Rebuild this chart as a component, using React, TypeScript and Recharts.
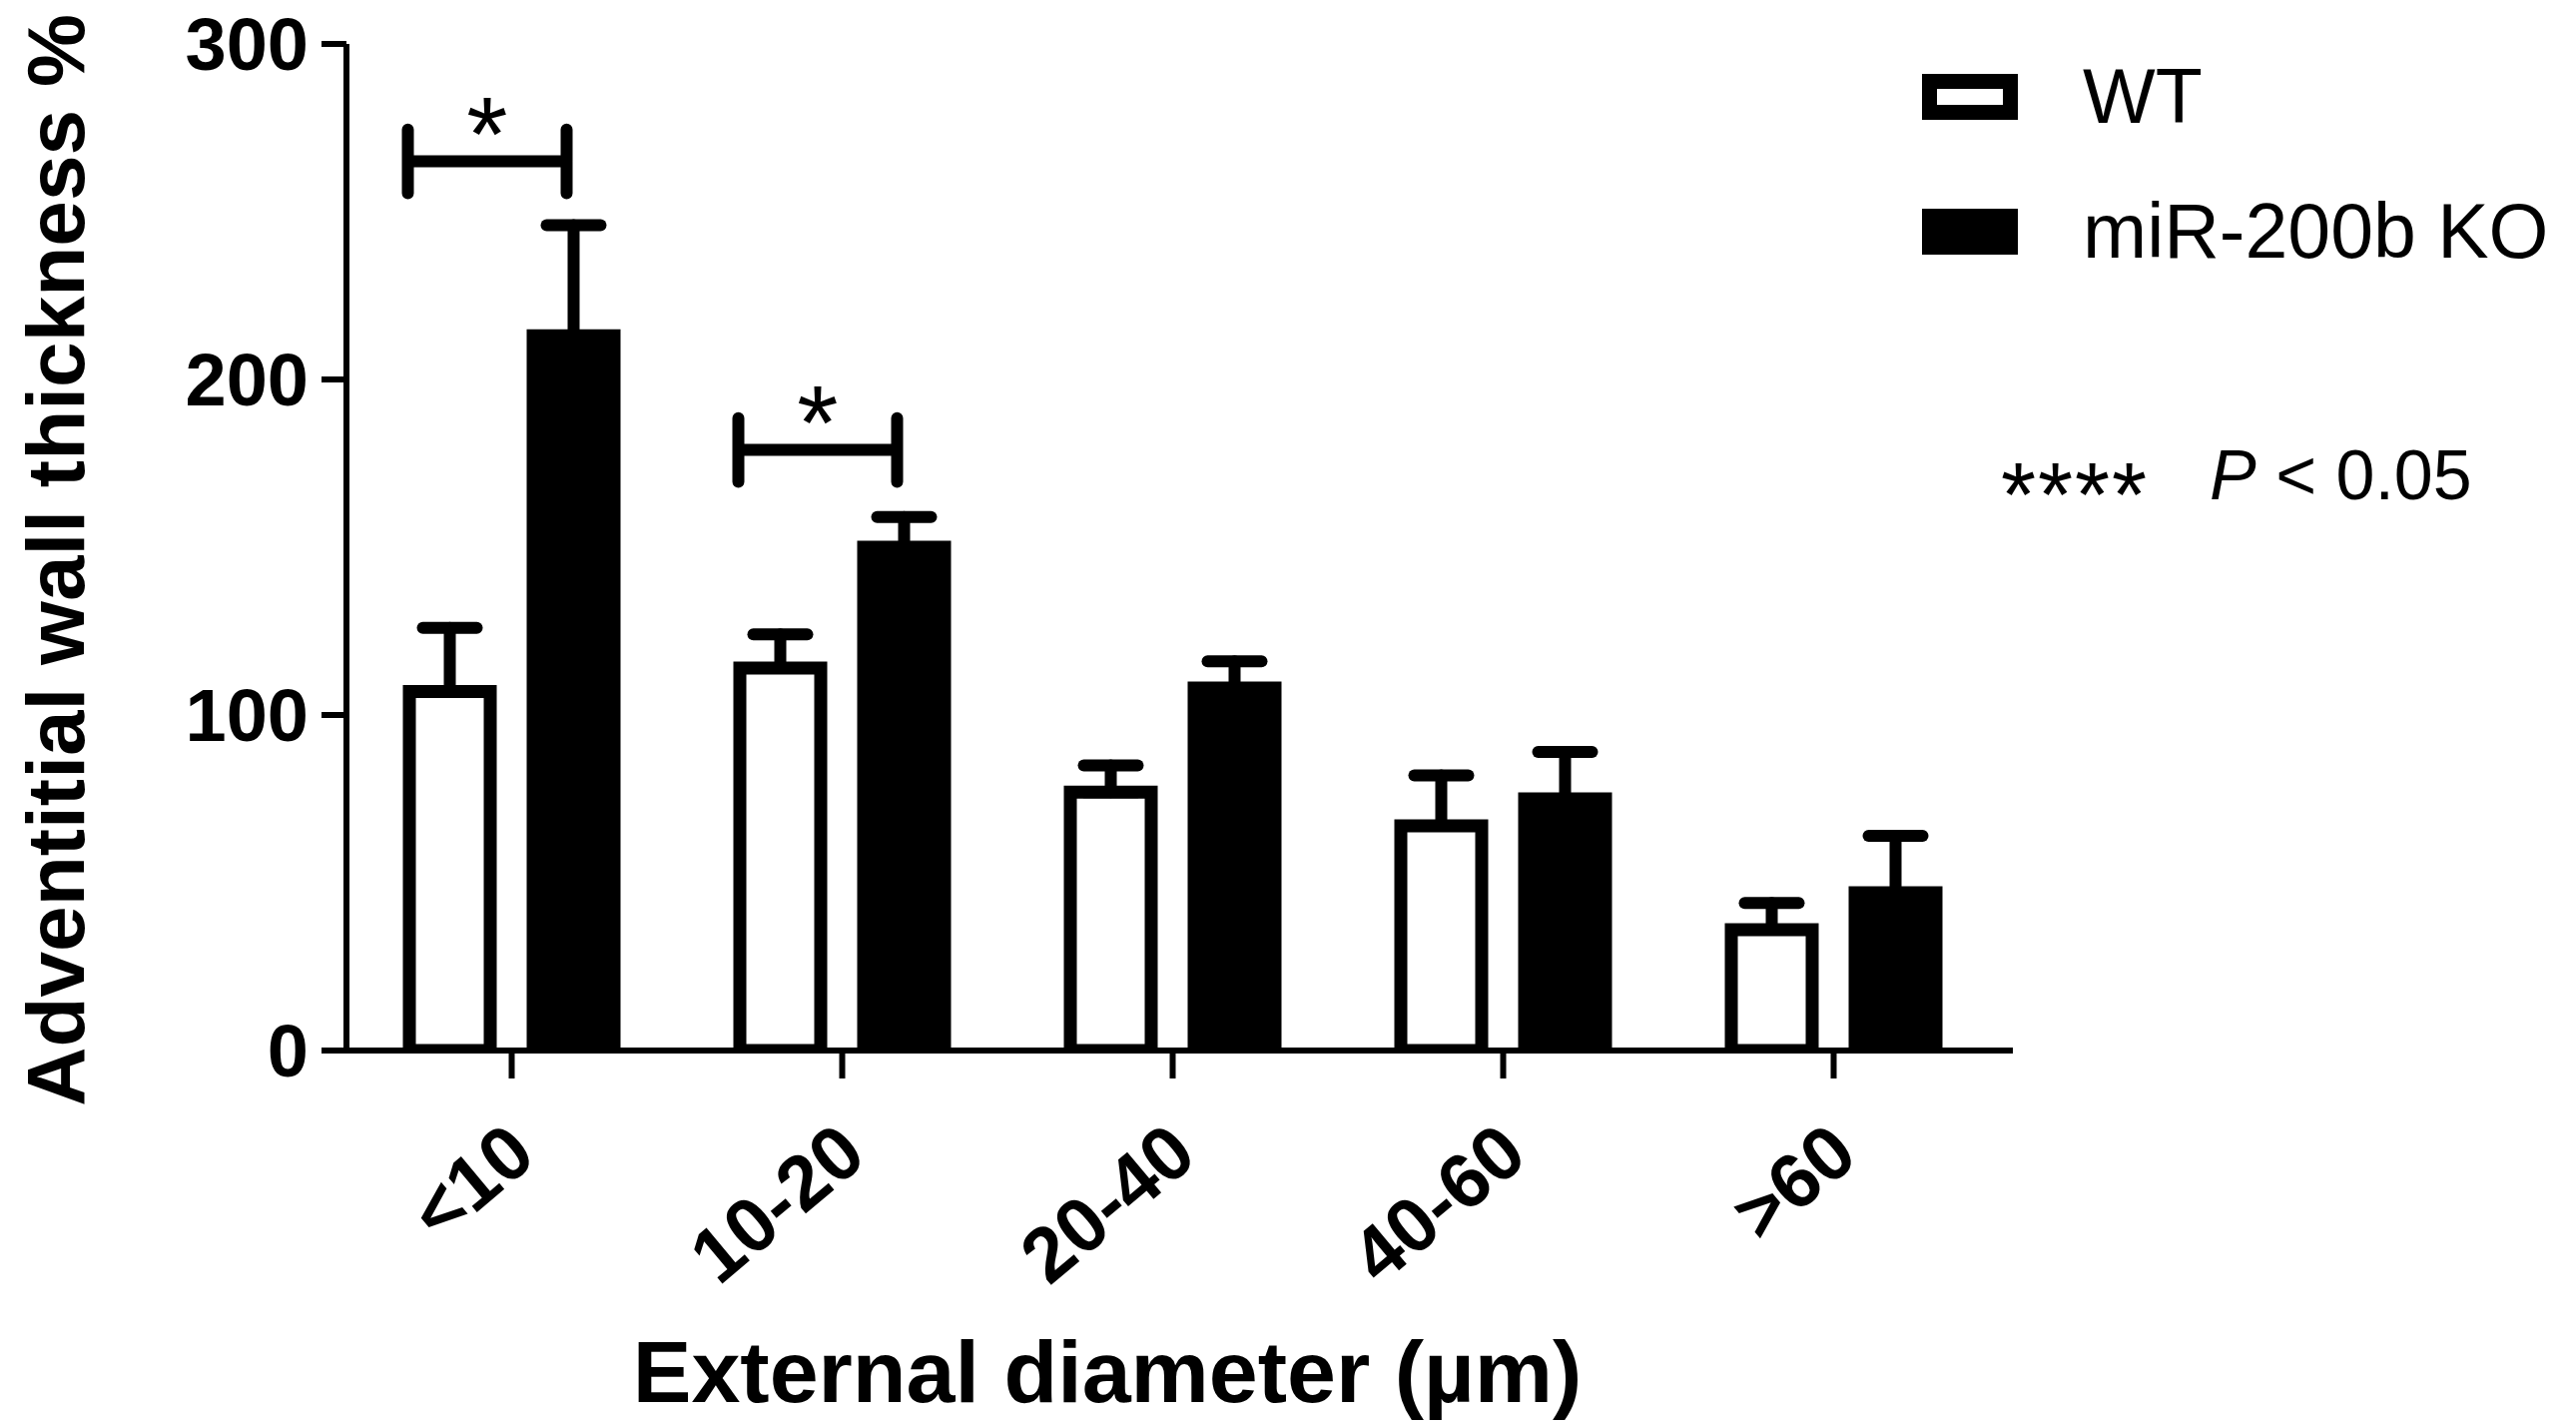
import { BarChart, Bar, XAxis, YAxis, ErrorBar, LabelList, Legend, Label } from 'recharts';

// diameter bins and group means / SEM
const categories = ['<10', '10-20', '20-40', '40-60', '>60'];
const wtMean = [107, 114, 77, 67, 36];
const wtSem = [19, 10, 8, 15, 8];
const koMean = [213, 150, 108, 75, 47];
const koSem = [33, 9, 8, 14, 17];
const sigMarks = ['*', '*', '', '', ''];
const sigLevel = [265, 179, 0, 0, 0];
const yTicks = [0, 100, 200, 300];

const data = categories.map((name, i) => ({
  name,
  wt: wtMean[i],
  wtErr: [0, wtSem[i]],
  ko: koMean[i],
  koErr: [0, koSem[i]],
  sig: sigMarks[i],
}));

const FONT = '"Liberation Sans", Arial, Helvetica, sans-serif';
const BAR = 81;
const GAP = 43;
const EDGE = 13;

function DiameterTick({ x, y, payload }: any) {
  const tx = x + 27;
  const ty = y + 80;
  return (
    <text
      x={tx}
      y={ty}
      transform={`rotate(-40, ${tx}, ${ty})`}
      textAnchor="end"
      fontSize={77}
      fontWeight="bold"
      fontFamily={FONT}
      fill="#000"
    >
      {payload.value}
    </text>
  );
}

function SigBracket(props: any) {
  const i = props.index;
  if (!sigMarks[i]) return null;
  const vb = props.viewBox && props.viewBox.height != null ? props.viewBox : props;
  const { x, y, width, height } = vb;
  const k = height / wtMean[i];
  const base = y + height;
  const yb = base - sigLevel[i] * k;
  const half = 9.5 * k;
  const x1 = x - EDGE / 2 + 5;
  const x2 = x + width + GAP + width / 2 - 7;
  const starMid = base - (sigLevel[i] + 15) * k;
  return (
    <g>
      <path
        d={`M${x1},${yb - half}V${yb + half}M${x1},${yb}H${x2}M${x2},${yb - half}V${yb + half}`}
        stroke="#000"
        strokeWidth={12}
        strokeLinecap="round"
        fill="none"
      />
      <text
        x={(x1 + x2) / 2}
        y={starMid + 0.56 * 106}
        textAnchor="middle"
        fontSize={106}
        fontFamily={FONT}
        fill="#000"
      >
        {sigMarks[i]}
      </text>
    </g>
  );
}

function KeyPanel() {
  return (
    <svg width={660} height={620} style={{ display: 'block' }}>
      <rect x={12.5} y={81.5} width={81} height={31} fill="#fff" stroke="#000" strokeWidth={15} />
      <rect x={5} y={209} width={96} height={46} fill="#000" />
      <text x={166} y={123} fontSize={77} fontFamily={FONT} fill="#000">WT</text>
      <text x={166} y={258} fontSize={77} fontFamily={FONT} fill="#000">miR-200b KO</text>
      <text x={84} y={527} fontSize={90} letterSpacing={2} fontFamily={FONT} fill="#000">****</text>
      <text x={293} y={500} fontSize={70} fontFamily={FONT} fill="#000">
        <tspan fontStyle="italic">P</tspan>
        <tspan> &lt; 0.05</tspan>
      </text>
    </svg>
  );
}

export default function App() {
  return (
    <div>
      <style>{'body{margin:0;background:#fff}'}</style>
      <BarChart
        width={2580}
        height={1426}
        data={data}
        barGap={GAP}
        margin={{ top: 44, right: 564, bottom: 0, left: 0 }}
        style={{ fontFamily: FONT }}
      >
        <XAxis
          dataKey="name"
          height={374}
          padding={{ left: 0, right: 14 }}
          axisLine={{ stroke: '#000', strokeWidth: 6 }}
          tickLine={{ stroke: '#000', strokeWidth: 6 }}
          tickSize={28}
          tick={<DiameterTick />}
          interval={0}
        >
          <Label
            content={() => (
              <text x={1109} y={1404} textAnchor="middle" fontSize={88} fontWeight="bold" fontFamily={FONT} fill="#000">
                External diameter (µm)
              </text>
            )}
          />
        </XAxis>
        <YAxis
          width={347}
          domain={[0, 300]}
          ticks={yTicks}
          allowDataOverflow
          axisLine={{ stroke: '#000', strokeWidth: 6 }}
          tickLine={{ stroke: '#000', strokeWidth: 6 }}
          tickSize={25}
          tickMargin={13}
          tick={{ fontSize: 74, fontWeight: 'bold', fill: '#000', fontFamily: FONT }}
        >
          <Label
            content={() => (
              <text
                x={84}
                y={561}
                transform="rotate(-90, 84, 561)"
                textAnchor="middle"
                fontSize={82}
                fontWeight="bold"
                fontFamily={FONT}
                fill="#000"
              >
                Adventitial wall thickness %
              </text>
            )}
          />
        </YAxis>
        <Legend
          layout="horizontal"
          verticalAlign="middle"
          align="center"
          wrapperStyle={{ left: 1920, top: 0, width: 660, height: 620 }}
          content={<KeyPanel />}
        />
        <Bar dataKey="wt" name="WT" fill="#fff" stroke="#000" strokeWidth={EDGE} barSize={BAR} isAnimationActive={false}>
          <ErrorBar dataKey="wtErr" direction="y" width={27} stroke="#000" strokeWidth={12} strokeLinecap="round" />
          <LabelList dataKey="sig" content={<SigBracket />} />
        </Bar>
        <Bar dataKey="ko" name="miR-200b KO" fill="#000" stroke="#000" strokeWidth={EDGE} barSize={BAR} isAnimationActive={false}>
          <ErrorBar dataKey="koErr" direction="y" width={27} stroke="#000" strokeWidth={12} strokeLinecap="round" />
        </Bar>
      </BarChart>
    </div>
  );
}
